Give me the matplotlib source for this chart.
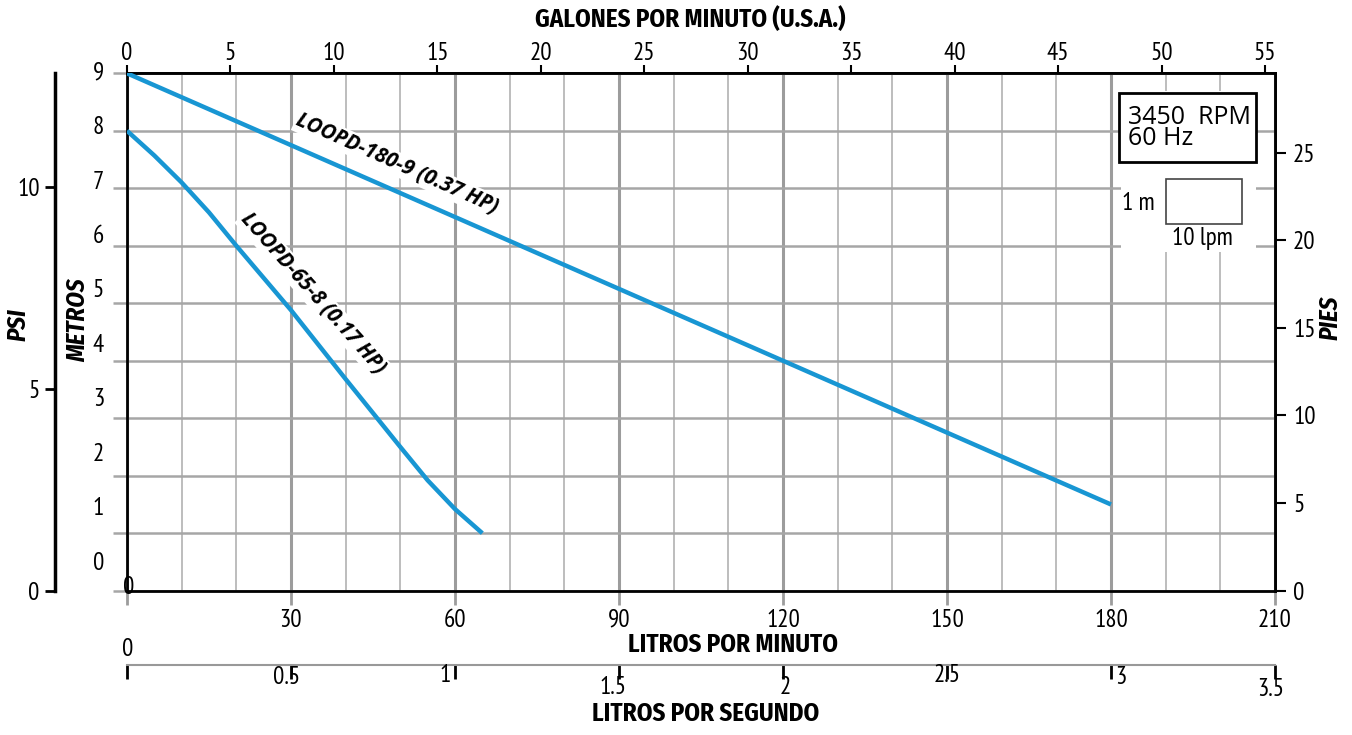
import matplotlib
matplotlib.use("Agg")
import logging
import matplotlib.pyplot as plt
from matplotlib.patches import Rectangle
from matplotlib.transforms import blended_transform_factory

logging.getLogger('matplotlib.font_manager').setLevel(logging.ERROR)

# curvas de la bomba: caudal (litros por minuto) vs altura (metros)
lpm_180 = [0, 30, 60, 90, 120, 150, 180]
m_180 = [9.0, 7.75, 6.5, 5.25, 4.0, 2.75, 1.5]
lpm_65 = [0, 5, 10, 15, 20, 25, 30, 40, 50, 55, 60, 65]
m_65 = [8.0, 7.57, 7.1, 6.58, 6.0, 5.44, 4.88, 3.68, 2.5, 1.92, 1.42, 1.0]

lpm_ticks = [0, 30, 60, 90, 120, 150, 180, 210]
gpm_ticks = [0, 5, 10, 15, 20, 25, 30, 35, 40, 45, 50, 55]
lps_ticks = [0, 0.5, 1, 1.5, 2, 2.5, 3, 3.5]
ft_ticks = [0, 5, 10, 15, 20, 25]
psi_ticks = [0, 5, 10]
m_ticks = [0, 1, 2, 3, 4, 5, 6, 7, 8, 9]

LPM_PER_GPM = 3.78541
M_PER_FT = 0.3048
M_PER_PSI = 0.70307

blue = '#1896d3'
narrow = ['PT Sans Narrow', 'IBM Plex Sans Condensed', 'DejaVu Sans']
bold_c = ['Fira Sans Condensed', 'IBM Plex Sans Condensed', 'PT Sans Narrow', 'DejaVu Sans']
wide = ['Open Sans', 'DejaVu Sans']
tsize = 18

plt.rcParams['font.family'] = narrow

W, H = 1352, 735
fig = plt.figure(figsize=(W / 100, H / 100), dpi=100)
x0, x1, ytop, ybot = 127, 1275, 73.3, 590.7
ax = fig.add_axes([x0 / W, 1 - ybot / H, (x1 - x0) / W, (ybot - ytop) / H])
ax.set_xlim(0, 210)
ax.set_ylim(0, 9)
ax.set_axisbelow(True)

# rejilla
ax.set_xticks(range(0, 211, 10), minor=True)
ax.set_xticks(lpm_ticks)
ax.set_xticklabels([''] + [str(t) for t in lpm_ticks[1:]])
ax.set_yticks(m_ticks)
ax.set_yticklabels([])
ax.grid(which='minor', axis='x', color='#b8b8b8', lw=1.3)
ax.grid(which='major', axis='x', color='#9c9c9c', lw=2.2)
ax.grid(which='major', axis='y', color='#a6a6a6', lw=1.8)
ax.tick_params(axis='x', which='major', length=10, width=2, color='#9c9c9c',
               labelsize=tsize, pad=3)
ax.tick_params(axis='x', which='minor', length=0)
ax.tick_params(axis='y', length=10, width=1.8, color='#a6a6a6')
for s in ax.spines.values():
    s.set_linewidth(2)
    s.set_color('black')

# etiquetas de metros (ligeramente desplazadas como en el original)
for m in m_ticks:
    ax.text(-0.02, 0.48 + 0.947 * m, str(m), transform=ax.get_yaxis_transform(),
            ha='right', va='center', fontsize=tsize)
ax.text(0.3, 0.05, '0', ha='center', va='center', fontsize=tsize)

# curvas
ax.plot(lpm_180, m_180, color=blue, lw=3.2, zorder=3, solid_capstyle='butt')
ax.plot(lpm_65, m_65, color=blue, lw=3.2, zorder=3, solid_capstyle='butt')

lbl = dict(fontsize=15, fontweight='bold', fontstyle='italic', family=wide,
           ha='center', va='center', rotation_mode='anchor', zorder=4,
           bbox=dict(fc='white', ec='none', pad=1))
ax.text(49.4, 7.42, 'LOOPD-180-9 (0.37 HP)', rotation=-24, **lbl)
ax.text(34.0, 5.17, 'LOOPD-65-8 (0.17 HP)', rotation=-48.5, **lbl)

# cuadro de informacion
ax.add_patch(Rectangle((181.8, 5.9), 24.7, 2.8, fc='white', ec='none', zorder=1.5))
ax.add_patch(Rectangle((181.5, 7.46), 25.0, 1.2, fc='white', ec='black', lw=2, zorder=3))
ax.text(183.1, 8.45, '3450  RPM\n60 Hz', ha='left', va='top', fontsize=18,
        family=wide, linespacing=0.82, zorder=4)
ax.add_patch(Rectangle((190.0, 6.38), 13.9, 0.775, fc='none', ec='#444444', lw=1.2, zorder=3))
ax.text(185.0, 6.74, '1 m', ha='center', va='center', fontsize=tsize)
ax.text(196.8, 6.12, '10 lpm', ha='center', va='center', fontsize=tsize)

# eje superior: galones por minuto
top = ax.secondary_xaxis('top', functions=(lambda x: x / LPM_PER_GPM,
                                           lambda x: x * LPM_PER_GPM))
top.set_xticks(gpm_ticks)
top.tick_params(length=6, width=1.5, labelsize=tsize, pad=0)
top.spines['top'].set_linewidth(2)

# eje derecho: pies
right = ax.secondary_yaxis('right', functions=(lambda y: y / M_PER_FT,
                                               lambda y: y * M_PER_FT))
right.set_yticks(ft_ticks)
right.tick_params(length=8, width=1.5, labelsize=tsize, pad=5)
right.spines['right'].set_linewidth(2)

# eje izquierdo: psi
psi = ax.secondary_yaxis((55 - x0) / (x1 - x0), functions=(lambda y: y / M_PER_PSI,
                                                            lambda y: y * M_PER_PSI))
psi.set_yticks(psi_ticks)
psi.tick_params(length=7, width=2, labelsize=tsize, pad=4)
psi.spines['left'].set_linewidth(2.5)

# eje inferior: litros por segundo (etiquetas algo desordenadas, como el original)
lps = ax.secondary_xaxis((ybot - 665) / (ybot - ytop), functions=(lambda x: x / 60,
                                                                  lambda x: x * 60))
lps.set_xticks(lps_ticks)
lps.set_xticklabels([])
lps.tick_params(length=10, width=2)
lps.spines['bottom'].set_color('#999999')
lps.spines['bottom'].set_linewidth(1.5)
lps_dx = [1, -4, -10, -6, 2, 0, 10, -4]
lps_y = [650, 677, 675, 688, 688, 676, 677, 690]
tr = blended_transform_factory(ax.transData, fig.transFigure)
for t, dx, yy in zip(lps_ticks, lps_dx, lps_y):
    ax.text(t * 60 + dx / 5.467, 1 - yy / H, f'{t:g}', transform=tr,
            ha='center', va='center', fontsize=tsize, clip_on=False)

# titulos de los ejes
hdr = dict(fontsize=18, fontweight='bold', ha='center', va='center', family=bold_c)
fig.text(690 / W, 1 - 19 / H, 'GALONES POR MINUTO (U.S.A.)', **hdr)
fig.text(733 / W, 1 - 645 / H, 'LITROS POR MINUTO', **hdr)
fig.text(706 / W, 1 - 714 / H, 'LITROS POR SEGUNDO', **hdr)
fig.text(18 / W, 1 - 325 / H, 'PSI', rotation=90, fontstyle='italic', **hdr)
fig.text(78 / W, 1 - 320 / H, 'METROS', rotation=90, fontstyle='italic', **hdr)
fig.text(1330 / W, 1 - 318 / H, 'PIES', rotation=90, fontstyle='italic', **hdr)

fig.savefig('out.png', dpi=100, facecolor='white')
